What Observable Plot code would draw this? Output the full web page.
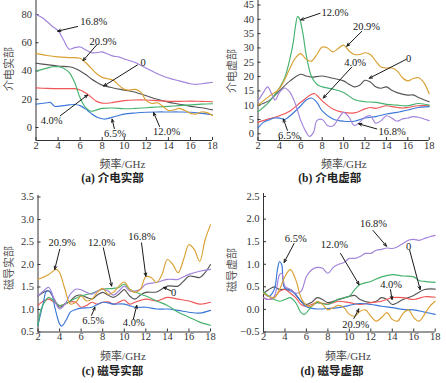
<!DOCTYPE html>
<html><head><meta charset="utf-8">
<script src="https://cdn.jsdelivr.net/npm/d3@7"></script>
<script src="https://cdn.jsdelivr.net/npm/@observablehq/plot@0.6"></script>
<style>
body{margin:0;background:#fff;}
#wrap{position:relative;width:446px;height:383px;overflow:hidden;font-family:"Liberation Serif","Noto Sans CJK SC",serif;color:#333;}
.panel{position:absolute;}
.lbl{position:absolute;white-space:nowrap;font-size:11px;transform:translate(-50%,-50%);color:#444;}
.ylbl{position:absolute;white-space:nowrap;font-size:11px;transform:translate(-50%,-50%) rotate(-90deg);color:#555;font-family:"Noto Sans CJK SC";}
.cap{position:absolute;white-space:nowrap;font-size:11.5px;font-weight:bold;transform:translate(-50%,-50%);color:#222;}
</style></head>
<body><div id="wrap"></div>
<script>
// ---------- data ----------
const seriesNames = ["0", "4.0%", "6.5%", "12.0%", "16.8%", "20.9%"];
const xTicks = [2, 4, 6, 8, 10, 12, 14, 16, 18];
const yTicksA = [0, 20, 40, 60, 80];
const yTicksB = [0, 5, 10, 15, 20, 25, 30, 35, 40, 45];
const yTicksC = [0.5, 1.0, 1.5, 2.0, 2.5, 3.0, 3.5];
const yTicksD = [-0.5, 0, 0.5, 1.0, 1.5, 2.0, 2.5];

// (a) 介电实部
const a_0 = [[2,45.5],[3,44.5],[4,43.5],[5,43],[5.5,42],[6,40],[6.5,37.5],[7,34.5],[7.5,32],[8,30],[9,28],[10,26.5],[11,25],[12,22.5],[13,20],[14,18],[15,16.5],[16,15],[17,14],[18,12.5]];
const a_40 = [[2,28],[3,27.7],[4,27.5],[5,27.5],[5.5,27.5],[6,26.5],[6.5,24.5],[7,21.5],[7.5,18.5],[8,17.3],[8.5,17.2],[9,17.8],[10,19],[11,19.5],[12,19.5],[13,19],[14,18.5],[15,18.5],[16,18.7],[17,18.5],[18,18.2]];
const a_65 = [[2,16.5],[2.5,17],[3,17.5],[3.3,17.8],[3.7,15],[4,15],[4.5,15.5],[5,16],[5.5,16.3],[6,15.5],[6.5,13],[7,10],[7.5,7.5],[8,6.2],[8.3,6],[8.8,7],[9.5,8.5],[10,9.5],[11,10.3],[12,10.8],[13,11],[14,11],[15,11],[16,10.8],[17,10],[18,9]];
const a_120 = [[2,40],[2.5,41],[3,42],[3.5,43],[4,43],[4.5,42],[5,39],[5.5,32],[6,21],[6.5,14],[7,11.5],[7.5,12.5],[8,13.5],[9,13.8],[10,13.3],[11,13.5],[12,14],[13,14.5],[14,15],[15,15.5],[16,16],[17,16.5],[18,16.8]];
const a_168 = [[2,80],[2.5,78],[3,75],[3.5,71.5],[4,68.5],[4.5,62],[5,55.5],[5.5,56.5],[6,57],[6.5,55],[7,53],[7.5,53],[8,53.5],[8.5,52],[9,50.5],[9.5,50],[10,48.5],[11,46],[12,42],[13,38],[14,35],[15,33],[16,31],[16.5,30.5],[17,31],[18,32]];
const a_209 = [[2,52.5],[3,51],[4,50],[5,49.5],[6,49],[6.5,46],[7,42],[7.5,38],[8,35.5],[8.5,34.5],[9,33.5],[9.5,30],[10,27],[10.5,26.5],[11,27],[11.5,25],[12,19],[12.5,17],[13,17.5],[13.5,15],[14,12],[14.5,12.5],[15,13.5],[15.5,12],[16,10],[16.5,9.5],[17,11],[17.5,10.5],[18,8.5]];

// (b) 介电虚部
const b_0 = [[2,10],[3,11.5],[4,15],[5,18.5],[6,20.8],[6.5,20.2],[7,19.8],[8,20.2],[9,19.4],[10,18.5],[10.5,17.3],[11,16.4],[11.5,17],[12,18.7],[12.5,18.1],[13,16.4],[13.5,15.9],[14,16.4],[14.5,15.2],[15,14.4],[16,13.5],[16.5,13.6],[17,12.7],[18,11.2]];
const b_40 = [[2,4],[3,5.2],[4,6.3],[5,8],[6,11],[7,13.8],[7.3,14],[8,11.5],[9,8.7],[10,7.5],[11,7.3],[12,8.7],[12.5,9.2],[13,8.9],[14,9.8],[14.5,9.5],[15,9.2],[15.5,9],[16,9.2],[17,9.8],[18,9.8]];
const b_65 = [[2,2],[2.5,4],[3,4.8],[3.5,5.5],[4,5.5],[4.5,5],[5,6.3],[6,9.8],[6.5,11.8],[7,12.5],[7.5,11],[8,8],[9,5.2],[10,4.4],[11,4.4],[12,5.5],[13,6],[14,6.9],[15,7.5],[16,8.3],[17,9.2],[18,9.5]];
const b_120 = [[2,7.7],[3,11],[4,16],[4.5,19.6],[5,26.5],[5.3,32],[5.5,37.5],[5.7,41],[5.9,40],[6.2,35],[6.5,27.7],[7,20],[7.5,17.3],[8,16.4],[9,15.6],[10,14.4],[11,12],[12,11.2],[13,11],[14,10.3],[15,10],[16,9.8],[17,10.6],[18,10]];
const b_168 = [[2,11.5],[2.5,14.4],[2.9,16.4],[3.3,13.8],[3.6,11.8],[4,14.4],[4.5,16],[5,14.4],[5.5,10.4],[6,4.6],[6.5,0.6],[6.8,-0.9],[7.2,0.6],[7.5,4.6],[8,5],[8.5,2.9],[9,2.7],[9.5,5.2],[10,7.5],[10.5,5.8],[11,2.9],[11.5,4],[12,5.8],[12.5,6.3],[13,3.7],[13.5,4.6],[14,6.3],[14.5,5.5],[15,4.4],[15.5,5.2],[16,5.5],[16.5,6],[17,5.8],[18,4.6]];
const b_209 = [[2,10],[3,13],[4,15.8],[5,23],[5.5,26.5],[6,28],[6.5,26],[7,25.4],[7.5,27.7],[8,30.3],[8.5,30],[9,28.6],[9.5,29.8],[10,31],[10.5,29],[11,27.7],[11.5,27.7],[12,28.3],[12.5,27.7],[13,25.4],[13.5,23.3],[14,23],[14.5,23],[15,22],[15.5,19.6],[16,18.5],[16.5,19.3],[17,19.6],[17.5,17.9],[18,14]];

// (c) 磁导实部
const c_0 = [[2,1.3],[2.5,1.38],[3,1.41],[3.5,1.23],[4,1.05],[4.5,1.12],[5,1.19],[5.5,1.3],[6,1.32],[6.5,1.27],[7,1.23],[7.5,1.32],[8,1.38],[8.5,1.32],[9,1.27],[9.5,1.34],[10,1.44],[10.5,1.3],[11,1.23],[11.5,1.32],[12,1.38],[13,1.39],[14,1.52],[15,1.52],[15.5,1.63],[16,1.74],[16.5,1.73],[17,1.71],[17.5,1.82],[18,2.0]];
const c_40 = [[2,1.09],[2.5,1.19],[3,1.23],[3.5,1.16],[4,1.09],[4.5,1.12],[5,1.17],[5.5,1.16],[6,1.05],[6.5,1.09],[7,1.16],[7.5,1.12],[8,1.16],[8.5,1.17],[9,1.12],[9.5,1.16],[10,1.21],[10.5,1.12],[11,1.16],[12,1.23],[13,1.19],[14,1.27],[15,1.23],[16,1.19],[17,1.12],[18,1.16]];
const c_65 = [[2,0.65],[2.5,1.16],[2.8,1.41],[3.2,1.38],[3.6,1.01],[4,0.68],[4.2,0.63],[4.6,0.76],[5,0.94],[5.5,1.0],[6,1.03],[7,1.05],[8,1.16],[9,1.12],[10,1.12],[11,1.05],[12,1.05],[13,1.01],[14,1.01],[15,0.98],[16,0.94],[17,0.92],[18,0.98]];
const c_120 = [[2,0.65],[2.3,1.01],[2.8,1.23],[3,1.27],[3.5,1.19],[4,1.09],[4.5,1.12],[5,1.19],[6,1.3],[7,1.36],[8,1.45],[9,1.47],[9.5,1.49],[10,1.56],[10.5,1.45],[11,1.39],[12,1.3],[13,1.19],[14,1.09],[15,0.94],[16,0.83],[17,0.72],[18,0.65]];
const c_168 = [[2,1.3],[2.5,1.41],[3,1.49],[3.5,1.23],[4,1.01],[4.5,1.12],[5,1.34],[5.5,1.45],[6,1.44],[6.5,1.38],[7,1.34],[7.5,1.41],[8,1.45],[8.5,1.41],[9,1.32],[9.5,1.41],[10,1.52],[10.5,1.41],[11,1.41],[11.5,1.45],[12,1.56],[13,1.6],[14,1.67],[15,1.67],[16,1.78],[17,1.85],[18,1.89]];
const c_209 = [[2,1.67],[3,1.78],[3.7,1.89],[4,1.82],[4.5,1.45],[5,1.12],[5.5,1.16],[6,1.3],[6.5,1.19],[7,1.23],[7.5,1.38],[8,1.47],[8.5,1.34],[9,1.38],[9.5,1.52],[10,1.61],[10.5,1.45],[11,1.38],[11.5,1.45],[12,1.73],[12.5,1.71],[13,1.6],[13.5,1.78],[14,2.11],[14.5,2.0],[15,1.82],[15.5,2.11],[16,2.44],[16.5,2.33],[17,2.07],[17.5,2.55],[18,2.88]];

// (d) 磁导虚部
const d_0 = [[2,0.36],[2.5,0.44],[3,0.5],[3.5,0.44],[4,0.45],[4.5,0.44],[5,0.33],[5.5,0.18],[6,0.11],[6.5,0.16],[7,0.26],[7.5,0.22],[8,0.15],[9,0.22],[10,0.29],[10.5,0.31],[11,0.22],[12,0.15],[12.5,0.18],[13,0.26],[13.5,0.22],[14,0.11],[15,0.22],[16,0.31],[17,0.44],[18,0.45]];
const d_40 = [[2,0.26],[2.5,0.22],[3,0.26],[3.5,0.4],[4,0.44],[4.5,0.36],[5,0.26],[5.5,0.11],[6,0.07],[7,0.15],[8,0.12],[9,0.18],[10,0.15],[11,0.11],[12,0.15],[13,0.18],[14,0.26],[15,0.26],[16,0.22],[17,0.28],[18,0.27]];
const d_65 = [[2,0.36],[2.5,0.29],[3,0.44],[3.3,0.88],[3.5,1.06],[3.7,0.99],[3.9,0.51],[4.2,0.44],[4.6,0.4],[5,0.33],[5.5,0.18],[6,0.06],[7,0.01],[8,0.02],[9,0.04],[10,0.09],[11,0.13],[12,0.11],[13,0.07],[14,0.04],[15,0],[16,-0.01],[17,-0.06],[18,-0.11]];
const d_120 = [[2,0.4],[2.5,0.29],[3,0.22],[3.5,0.18],[4,0.22],[4.5,0.26],[5,0.15],[5.5,-0.07],[5.8,-0.11],[6.5,0.07],[7,0.15],[8,0.11],[9,0.23],[10,0.29],[10.5,0.44],[11,0.55],[12,0.62],[13,0.72],[14,0.77],[15,0.74],[16,0.72],[16.5,0.64],[17,0.62],[18,0.6]];
const d_168 = [[2,0.26],[2.5,0.22],[3,0.29],[3.5,0.77],[3.7,0.8],[4,0.51],[4.5,0.44],[5,0.36],[5.5,0.4],[6,0.73],[6.5,0.88],[7,0.93],[7.5,0.91],[8,0.8],[8.5,0.93],[9,1.0],[9.5,1.04],[10,1.13],[10.5,1.13],[11,1.17],[11.5,1.24],[12,1.24],[12.5,1.31],[13,1.33],[13.5,1.36],[14,1.35],[14.5,1.39],[15,1.46],[15.5,1.53],[16,1.55],[16.5,1.53],[17,1.57],[17.5,1.61],[18,1.64]];
const d_209 = [[2,0.36],[2.5,0.29],[3,0.26],[3.5,0.44],[4,0.73],[4.5,0.88],[5,0.66],[5.5,0.26],[6,0.09],[6.5,0.07],[7,0.18],[7.5,0.11],[8,-0.01],[8.5,0.04],[9,0.09],[9.5,0.04],[10,-0.11],[10.5,-0.15],[11,-0.04],[11.5,-0.01],[12,-0.15],[12.5,-0.26],[13,-0.18],[13.5,-0.07],[14,-0.22],[14.5,-0.26],[15,-0.09],[15.5,-0.01],[16,-0.18],[16.5,-0.26],[17,-0.11],[17.5,0.07],[18,0.18]];

// annotations: [label, textX, textY, arrowX1, arrowY1, arrowX2, arrowY2]
const notesA = [["16.8%",7.23,74.6,5.78,71.5,3.96,68.2],["20.9%",8.07,61,7.53,58.7,6.26,47.3],["0",11.7,46.2,11.2,44.3,8.13,29.3],["4.0%",3.42,4.7,4.2,8.3,6.68,23],["6.5%",9.16,-4.3,9.1,-0.7,8.9,5.9],["12.0%",13.84,-2.8,13.2,0.7,12.66,10.6]];
const notesB = [["12.0%",9.2,42.5,7.8,42.1,5.99,39.8],["20.9%",12.14,37.5,11.7,35.8,10.3,30.6],["0",16.07,26.3,15.85,26,12.4,19.4],["4.0%",11.08,24.8,10.76,23.3,8.1,12.5],["6.5%",4.9,-0.5,4.75,1.2,4.37,5.2],["16.8%",14.54,0.9,13.1,1.7,11.4,3.5]];
const notesC = [["20.9%",4.24,2.48,4.02,2.34,3.55,1.89],["12.0%",7.9,2.48,8.06,2.37,8.83,1.52],["16.8%",11.63,2.62,11.6,2.48,12.0,1.74],["0",14.58,1.38,14.36,1.41,13.65,1.49],["6.5%",7.12,0.76,6.97,0.87,7.28,1.05],["4.0%",10.88,0.7,10.85,0.79,11.16,1.09]];
const notesD = [["6.5%",5.0,1.57,4.85,1.46,3.92,1.04],["12.0%",8.6,1.44,9.18,1.24,10.9,0.55],["16.8%",12.25,1.9,12.2,1.75,13.46,1.4],["0",15.53,1.39,15.62,1.31,16.6,0.44],["4.0%",13.89,0.56,13.83,0.44,13.98,0.22],["20.9%",10.6,-0.33,10.42,-0.2,10.88,0.01]];

const yLabels = ["介电实部", "介电虚部", "磁导实部", "磁导虚部"];
const xLabel = "频率/GHz";
const captions = ["(a) 介电实部", "(b) 介电虚部", "(c) 磁导实部", "(d) 磁导虚部"];

// ---------- styles / layout ----------
const colors = {"0":"#555555","4.0%":"#f05656","6.5%":"#3c78d8","12.0%":"#45b26e","16.8%":"#a283dc","20.9%":"#d9a133"};

const panels = [
  {left:0, top:0, w:223, h:160, x0:35.5, x1:212, yTop:0, yBot:140, yDomain:[-9.2,89.9], yTicks:yTicksA, fmt:d3.format("d"),
   data:[a_0,a_40,a_65,a_120,a_168,a_209], notes:notesA, yl:[8,69], xl:[122.5,163], cap:[112.5,177]},
  {left:223, top:0, w:223, h:160, x0:257.5, x1:428.7, yTop:0, yBot:140, yDomain:[-2.34,46.57], yTicks:yTicksB, fmt:d3.format("d"),
   data:[b_0,b_40,b_65,b_120,b_168,b_209], notes:notesB, yl:[231,71], xl:[343.8,163], cap:[329.7,177]},
  {left:0, top:190, w:223, h:160, x0:37.5, x1:210, yTop:195, yBot:331.5, yDomain:[0.5,3.533], yTicks:yTicksC, fmt:d3.format(".1f"),
   data:[c_0,c_40,c_65,c_120,c_168,c_209], notes:notesC, yl:[8,268], xl:[123,355], cap:[112.5,370]},
  {left:223, top:190, w:223, h:160, x0:263, x1:434.7, yTop:193, yBot:331.5, yDomain:[-0.5,2.567], yTicks:yTicksD, fmt:d3.format(".1f"),
   data:[d_0,d_40,d_65,d_120,d_168,d_209], notes:notesD, yl:[231,270], xl:[348,355], cap:[332,370]}
];

const wrap = document.getElementById("wrap");

panels.forEach((p, i) => {
  const marks = [];
  marks.push(Plot.ruleX([2], {stroke:"#333", strokeWidth:1}));
  marks.push(Plot.ruleY([p.yDomain[0]], {stroke:"#333", strokeWidth:1}));
  marks.push(Plot.axisX({ticks:xTicks, tickSize:-3, tickPadding:4, label:null, fontSize:10.5, stroke:"#333", fill:"#333"}));
  marks.push(Plot.axisY({ticks:p.yTicks, tickSize:-3, tickPadding:7, tickFormat:p.fmt, label:null, fontSize:10.5, stroke:"#333", fill:"#333"}));
  p.data.forEach((arr, k) => {
    const name = seriesNames[k];
    const rows = arr.map(([f, v]) => ({f, v}));
    marks.push(Plot.line(rows, {x:"f", y:"v", stroke:colors[name], strokeWidth:1.15, curve:"catmull-rom"}));
  });
  const notes = p.notes.map(([t, tx, ty, x1, y1, x2, y2]) => ({t, tx, ty, x1, y1, x2, y2}));
  marks.push(Plot.arrow(notes, {x1:"x1", y1:"y1", x2:"x2", y2:"y2", stroke:"#1a1a1a", strokeWidth:1, headLength:5, headAngle:45}));
  marks.push(Plot.text(notes, {x:"tx", y:"ty", text:"t", fontSize:10.5, fill:"#1a1a1a", fontFamily:"Liberation Serif"}));

  const svg = Plot.plot({
    width:p.w, height:p.h,
    marginLeft:p.x0 - p.left, marginRight:p.left + p.w - p.x1,
    marginTop:p.yTop - p.top, marginBottom:p.top + p.h - p.yBot,
    x:{domain:[2,18]},
    y:{domain:p.yDomain},
    style:{fontFamily:"Liberation Serif", fontSize:"10.5px", background:"transparent", overflow:"visible", color:"#333"},
    marks
  });
  svg.classList.add("panel");
  svg.style.left = p.left + "px";
  svg.style.top = p.top + "px";
  wrap.appendChild(svg);

  const yl = document.createElement("div");
  yl.className = "ylbl"; yl.textContent = yLabels[i];
  yl.style.left = p.yl[0] + "px"; yl.style.top = p.yl[1] + "px";
  wrap.appendChild(yl);

  const xl = document.createElement("div");
  xl.className = "lbl"; xl.textContent = xLabel;
  xl.style.left = p.xl[0] + "px"; xl.style.top = p.xl[1] + "px";
  wrap.appendChild(xl);

  const cap = document.createElement("div");
  cap.className = "cap"; cap.textContent = captions[i];
  cap.style.left = p.cap[0] + "px"; cap.style.top = p.cap[1] + "px";
  wrap.appendChild(cap);
});
</script>
</body></html>
